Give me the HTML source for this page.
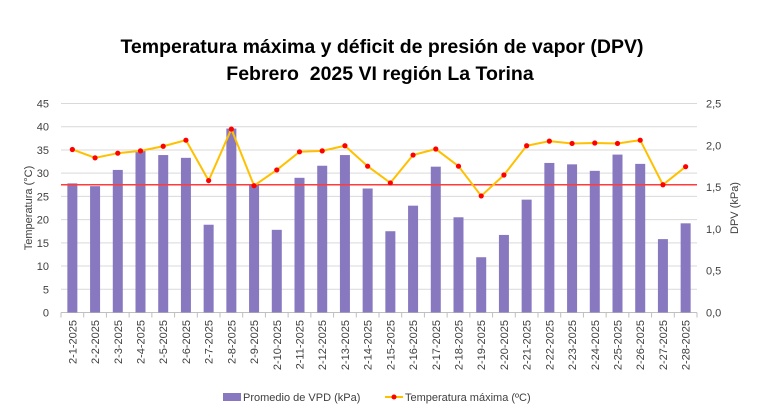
<!DOCTYPE html>
<html><head><meta charset="utf-8"><style>
html,body{margin:0;padding:0;background:#fff;}
svg{display:block;font-family:"Liberation Sans",Arial,sans-serif;}
</style></head><body>
<svg id="c" width="768" height="414" viewBox="0 0 768 414" xmlns="http://www.w3.org/2000/svg">
<rect width="768" height="414" fill="#fff"/>
<text x="382" y="53" text-anchor="middle" font-size="19.5" font-weight="bold" fill="#000">Temperatura máxima y déficit de presión de vapor (DPV)</text>
<text x="380" y="80" text-anchor="middle" font-size="19.5" font-weight="bold" fill="#000">Febrero&#160; 2025 VI región La Torina</text>
<g id="g"></g>
<text transform="translate(32,208) rotate(-90)" text-anchor="middle" font-size="11" fill="#404040">Temperatura (°C)</text>
<text transform="translate(738,208) rotate(-90)" text-anchor="middle" font-size="11" fill="#404040">DPV (kPa)</text>
<rect x="223" y="393" width="18" height="8" fill="#8878bf"/>
<text x="243" y="401" font-size="11" fill="#404040">Promedio de VPD (kPa)</text>
<line x1="385" y1="397" x2="403" y2="397" stroke="#ffc000" stroke-width="2"/>
<circle cx="394" cy="397" r="2.5" fill="#ff0000"/>
<text x="405" y="401" font-size="11" fill="#404040">Temperatura máxima (ºC)</text>
</svg>
<script>
var bars=[27.8,27.2,30.7,34.8,33.9,33.3,18.9,39.6,27.5,17.8,29,31.6,33.9,26.7,17.5,23,31.4,20.5,11.9,16.7,24.3,32.2,31.9,30.5,34,32,15.8,19.2];
var line=[35.1,33.3,34.3,34.8,35.8,37.1,28.4,39.5,27.3,30.7,34.6,34.8,35.9,31.5,27.9,33.9,35.2,31.5,25.1,29.6,35.9,36.9,36.4,36.5,36.4,37.1,27.5,31.4];
var L=61,R=697,T=103.5,B=312.5,s=(B-T)/45,w=(R-L)/28,h='';
function y(v){return B-v*s;}
for(var i=0;i<=9;i++){var yy=y(i*5);
 if(i>0)h+='<line x1="'+L+'" x2="'+R+'" y1="'+yy+'" y2="'+yy+'" stroke="#d9d9d9" stroke-width="1"/>';
 h+='<text x="49" y="'+(yy+4)+'" text-anchor="end" font-size="11" fill="#404040">'+(i*5)+'</text>';}
for(var i=0;i<=5;i++){var yy=B-i*(B-T)/5;
 h+='<text x="706" y="'+(yy+4)+'" font-size="11" fill="#404040">'+(i*0.5).toFixed(1).replace('.',',')+'</text>';}
h+='<line x1="'+L+'" x2="'+R+'" y1="'+B+'" y2="'+B+'" stroke="#bfbfbf"/>';
for(var i=0;i<=28;i++){var xx=L+i*w;h+='<line x1="'+xx+'" x2="'+xx+'" y1="'+B+'" y2="'+(B+5)+'" stroke="#bfbfbf"/>';}
var pts=[];
for(var i=0;i<28;i++){var cx=L+(i+0.5)*w;
 h+='<rect x="'+(cx-5)+'" y="'+y(bars[i])+'" width="10" height="'+(bars[i]*s)+'" fill="#8878bf"/>';
 h+='<text transform="translate('+(cx+4)+',320) rotate(-90)" text-anchor="end" font-size="11" fill="#404040">2-'+(i+1)+'-2025</text>';
 pts.push(cx+','+y(line[i]));}
h+='<line x1="'+L+'" x2="'+R+'" y1="'+y(27.5)+'" y2="'+y(27.5)+'" stroke="#ff3b3b" stroke-width="1.5"/>';
h+='<polyline points="'+pts.join(' ')+'" fill="none" stroke="#ffc000" stroke-width="2"/>';
for(var i=0;i<28;i++){var p=pts[i].split(',');h+='<circle cx="'+p[0]+'" cy="'+p[1]+'" r="2.6" fill="#ff0000"/>';}
document.getElementById('g').innerHTML=h;
</script>
</body></html>
